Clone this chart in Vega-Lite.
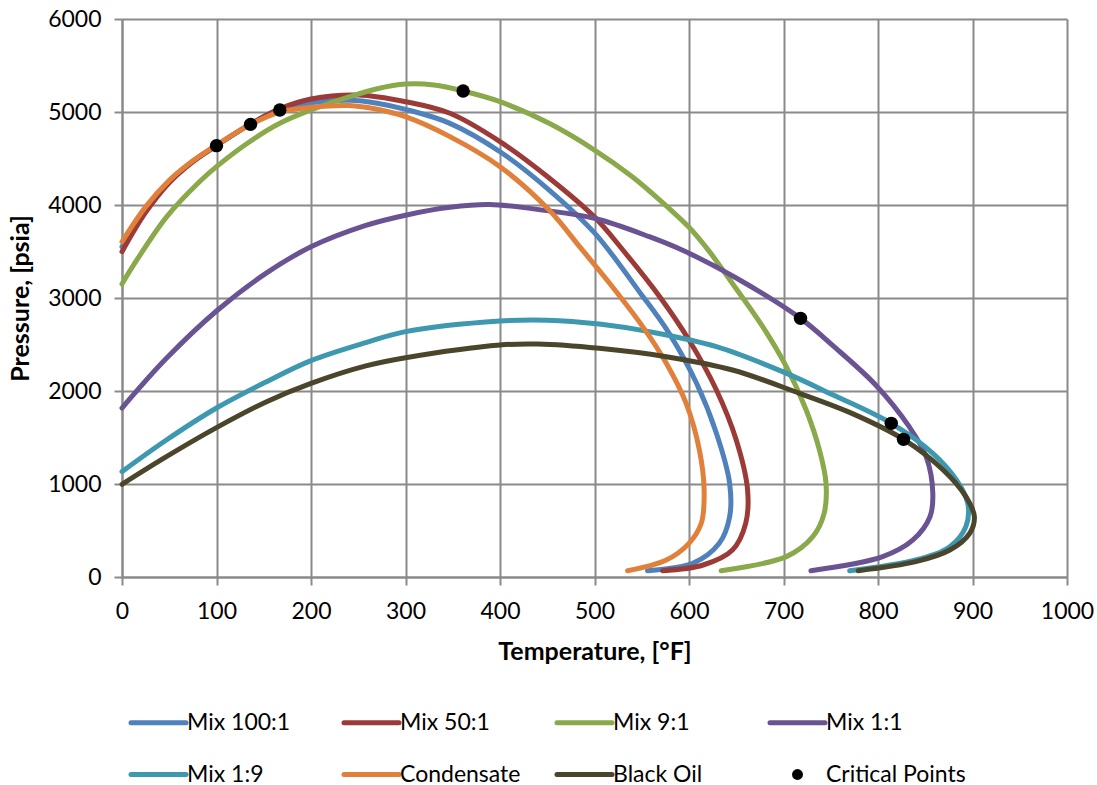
{
  "$schema": "https://vega.github.io/schema/vega-lite/v6.json",
  "width": 945,
  "height": 558,
  "autosize": {"type": "none"},
  "padding": {"left": 122, "top": 19, "right": 30, "bottom": 208},
  "background": "white",
  "config": {
    "font": "Lato",
    "view": {"stroke": null},
    "axis": {
      "gridColor": "#8a8a8a",
      "gridWidth": 2,
      "domainColor": "#8a8a8a",
      "domainWidth": 2,
      "tickColor": "#8a8a8a",
      "tickWidth": 2,
      "tickSize": 8,
      "labelFont": "Lato",
      "labelFontSize": 23,
      "labelColor": "#000000",
      "titleFont": "Lato",
      "titleFontSize": 25,
      "titleFontWeight": "bold",
      "titleColor": "#000000"
    }
  },
  "datasets": {
    "curves": [
      {"s": "Mix 100:1", "i": 0, "T": 0, "P": 3550}, {"s": "Mix 100:1", "i": 1, "T": 25, "P": 3950}, {"s": "Mix 100:1", "i": 2, "T": 50, "P": 4255}, {"s": "Mix 100:1", "i": 3, "T": 75, "P": 4470}, {"s": "Mix 100:1", "i": 4, "T": 100, "P": 4640}, {"s": "Mix 100:1", "i": 5, "T": 135, "P": 4865}, {"s": "Mix 100:1", "i": 6, "T": 167, "P": 5030}, {"s": "Mix 100:1", "i": 7, "T": 200, "P": 5100}, {"s": "Mix 100:1", "i": 8, "T": 241, "P": 5126}, {"s": "Mix 100:1", "i": 9, "T": 270, "P": 5095}, {"s": "Mix 100:1", "i": 10, "T": 300, "P": 5029}, {"s": "Mix 100:1", "i": 11, "T": 347, "P": 4878}, {"s": "Mix 100:1", "i": 12, "T": 400, "P": 4573}, {"s": "Mix 100:1", "i": 13, "T": 452, "P": 4161}, {"s": "Mix 100:1", "i": 14, "T": 500, "P": 3700}, {"s": "Mix 100:1", "i": 15, "T": 548, "P": 3060}, {"s": "Mix 100:1", "i": 16, "T": 579, "P": 2620}, {"s": "Mix 100:1", "i": 17, "T": 608, "P": 2083}, {"s": "Mix 100:1", "i": 18, "T": 629, "P": 1545}, {"s": "Mix 100:1", "i": 19, "T": 643, "P": 1007}, {"s": "Mix 100:1", "i": 20, "T": 643, "P": 648}, {"s": "Mix 100:1", "i": 21, "T": 632, "P": 362}, {"s": "Mix 100:1", "i": 22, "T": 604, "P": 147}, {"s": "Mix 100:1", "i": 23, "T": 556, "P": 68},

      {"s": "Mix 50:1", "i": 0, "T": 0, "P": 3498}, {"s": "Mix 50:1", "i": 1, "T": 25, "P": 3920}, {"s": "Mix 50:1", "i": 2, "T": 50, "P": 4240}, {"s": "Mix 50:1", "i": 3, "T": 75, "P": 4465}, {"s": "Mix 50:1", "i": 4, "T": 100, "P": 4640}, {"s": "Mix 50:1", "i": 5, "T": 135, "P": 4865}, {"s": "Mix 50:1", "i": 6, "T": 167, "P": 5035}, {"s": "Mix 50:1", "i": 7, "T": 200, "P": 5140}, {"s": "Mix 50:1", "i": 8, "T": 250, "P": 5183}, {"s": "Mix 50:1", "i": 9, "T": 300, "P": 5111}, {"s": "Mix 50:1", "i": 10, "T": 347, "P": 4986}, {"s": "Mix 50:1", "i": 11, "T": 400, "P": 4681}, {"s": "Mix 50:1", "i": 12, "T": 452, "P": 4290}, {"s": "Mix 50:1", "i": 13, "T": 500, "P": 3870}, {"s": "Mix 50:1", "i": 14, "T": 530, "P": 3516}, {"s": "Mix 50:1", "i": 15, "T": 569, "P": 3014}, {"s": "Mix 50:1", "i": 16, "T": 600, "P": 2548}, {"s": "Mix 50:1", "i": 17, "T": 629, "P": 2011}, {"s": "Mix 50:1", "i": 18, "T": 650, "P": 1473}, {"s": "Mix 50:1", "i": 19, "T": 662, "P": 935}, {"s": "Mix 50:1", "i": 20, "T": 660, "P": 577}, {"s": "Mix 50:1", "i": 21, "T": 646, "P": 290}, {"s": "Mix 50:1", "i": 22, "T": 615, "P": 129}, {"s": "Mix 50:1", "i": 23, "T": 572, "P": 68},

      {"s": "Mix 9:1", "i": 0, "T": 0, "P": 3150}, {"s": "Mix 9:1", "i": 1, "T": 12, "P": 3350}, {"s": "Mix 9:1", "i": 2, "T": 47, "P": 3870}, {"s": "Mix 9:1", "i": 3, "T": 82, "P": 4250}, {"s": "Mix 9:1", "i": 4, "T": 100, "P": 4412}, {"s": "Mix 9:1", "i": 5, "T": 135, "P": 4680}, {"s": "Mix 9:1", "i": 6, "T": 167, "P": 4878}, {"s": "Mix 9:1", "i": 7, "T": 200, "P": 5022}, {"s": "Mix 9:1", "i": 8, "T": 241, "P": 5165}, {"s": "Mix 9:1", "i": 9, "T": 270, "P": 5250}, {"s": "Mix 9:1", "i": 10, "T": 300, "P": 5300}, {"s": "Mix 9:1", "i": 11, "T": 330, "P": 5290}, {"s": "Mix 9:1", "i": 12, "T": 361, "P": 5226}, {"s": "Mix 9:1", "i": 13, "T": 400, "P": 5111}, {"s": "Mix 9:1", "i": 14, "T": 452, "P": 4878}, {"s": "Mix 9:1", "i": 15, "T": 500, "P": 4591}, {"s": "Mix 9:1", "i": 16, "T": 540, "P": 4304}, {"s": "Mix 9:1", "i": 17, "T": 576, "P": 3990}, {"s": "Mix 9:1", "i": 18, "T": 600, "P": 3760}, {"s": "Mix 9:1", "i": 19, "T": 620, "P": 3520}, {"s": "Mix 9:1", "i": 20, "T": 645, "P": 3170}, {"s": "Mix 9:1", "i": 21, "T": 678, "P": 2692}, {"s": "Mix 9:1", "i": 22, "T": 703, "P": 2262}, {"s": "Mix 9:1", "i": 23, "T": 724, "P": 1796}, {"s": "Mix 9:1", "i": 24, "T": 738, "P": 1366}, {"s": "Mix 9:1", "i": 25, "T": 745, "P": 1007}, {"s": "Mix 9:1", "i": 26, "T": 743, "P": 685}, {"s": "Mix 9:1", "i": 27, "T": 731, "P": 434}, {"s": "Mix 9:1", "i": 28, "T": 703, "P": 219}, {"s": "Mix 9:1", "i": 29, "T": 634, "P": 68},

      {"s": "Mix 1:1", "i": 0, "T": 0, "P": 1817}, {"s": "Mix 1:1", "i": 1, "T": 47, "P": 2351}, {"s": "Mix 1:1", "i": 2, "T": 100, "P": 2860}, {"s": "Mix 1:1", "i": 3, "T": 153, "P": 3270}, {"s": "Mix 1:1", "i": 4, "T": 200, "P": 3550}, {"s": "Mix 1:1", "i": 5, "T": 258, "P": 3780}, {"s": "Mix 1:1", "i": 6, "T": 300, "P": 3890}, {"s": "Mix 1:1", "i": 7, "T": 347, "P": 3975}, {"s": "Mix 1:1", "i": 8, "T": 389, "P": 4005}, {"s": "Mix 1:1", "i": 9, "T": 445, "P": 3945}, {"s": "Mix 1:1", "i": 10, "T": 500, "P": 3857}, {"s": "Mix 1:1", "i": 11, "T": 558, "P": 3659}, {"s": "Mix 1:1", "i": 12, "T": 595, "P": 3505}, {"s": "Mix 1:1", "i": 13, "T": 650, "P": 3215}, {"s": "Mix 1:1", "i": 14, "T": 718, "P": 2781}, {"s": "Mix 1:1", "i": 15, "T": 752, "P": 2490}, {"s": "Mix 1:1", "i": 16, "T": 798, "P": 2060}, {"s": "Mix 1:1", "i": 17, "T": 833, "P": 1616}, {"s": "Mix 1:1", "i": 18, "T": 851, "P": 1294}, {"s": "Mix 1:1", "i": 19, "T": 858, "P": 900}, {"s": "Mix 1:1", "i": 20, "T": 855, "P": 648}, {"s": "Mix 1:1", "i": 21, "T": 837, "P": 398}, {"s": "Mix 1:1", "i": 22, "T": 805, "P": 219}, {"s": "Mix 1:1", "i": 23, "T": 729, "P": 68},

      {"s": "Mix 1:9", "i": 0, "T": 0, "P": 1133}, {"s": "Mix 1:9", "i": 1, "T": 47, "P": 1473}, {"s": "Mix 1:9", "i": 2, "T": 100, "P": 1817}, {"s": "Mix 1:9", "i": 3, "T": 153, "P": 2100}, {"s": "Mix 1:9", "i": 4, "T": 200, "P": 2326}, {"s": "Mix 1:9", "i": 5, "T": 258, "P": 2520}, {"s": "Mix 1:9", "i": 6, "T": 300, "P": 2638}, {"s": "Mix 1:9", "i": 7, "T": 400, "P": 2753}, {"s": "Mix 1:9", "i": 8, "T": 450, "P": 2762}, {"s": "Mix 1:9", "i": 9, "T": 505, "P": 2720}, {"s": "Mix 1:9", "i": 10, "T": 558, "P": 2638}, {"s": "Mix 1:9", "i": 11, "T": 629, "P": 2477}, {"s": "Mix 1:9", "i": 12, "T": 699, "P": 2208}, {"s": "Mix 1:9", "i": 13, "T": 752, "P": 1960}, {"s": "Mix 1:9", "i": 14, "T": 814, "P": 1652}, {"s": "Mix 1:9", "i": 15, "T": 858, "P": 1330}, {"s": "Mix 1:9", "i": 16, "T": 883, "P": 1043}, {"s": "Mix 1:9", "i": 17, "T": 895, "P": 792}, {"s": "Mix 1:9", "i": 18, "T": 893, "P": 541}, {"s": "Mix 1:9", "i": 19, "T": 876, "P": 326}, {"s": "Mix 1:9", "i": 20, "T": 840, "P": 183}, {"s": "Mix 1:9", "i": 21, "T": 770, "P": 68},

      {"s": "Condensate", "i": 0, "T": 0, "P": 3605}, {"s": "Condensate", "i": 1, "T": 25, "P": 3980}, {"s": "Condensate", "i": 2, "T": 50, "P": 4265}, {"s": "Condensate", "i": 3, "T": 75, "P": 4475}, {"s": "Condensate", "i": 4, "T": 100, "P": 4645}, {"s": "Condensate", "i": 5, "T": 135, "P": 4860}, {"s": "Condensate", "i": 6, "T": 167, "P": 5000}, {"s": "Condensate", "i": 7, "T": 200, "P": 5050}, {"s": "Condensate", "i": 8, "T": 240, "P": 5070}, {"s": "Condensate", "i": 9, "T": 270, "P": 5030}, {"s": "Condensate", "i": 10, "T": 300, "P": 4950}, {"s": "Condensate", "i": 11, "T": 347, "P": 4735}, {"s": "Condensate", "i": 12, "T": 400, "P": 4412}, {"s": "Condensate", "i": 13, "T": 452, "P": 3946}, {"s": "Condensate", "i": 14, "T": 486, "P": 3530}, {"s": "Condensate", "i": 15, "T": 516, "P": 3158}, {"s": "Condensate", "i": 16, "T": 551, "P": 2692}, {"s": "Condensate", "i": 17, "T": 576, "P": 2298}, {"s": "Condensate", "i": 18, "T": 597, "P": 1867}, {"s": "Condensate", "i": 19, "T": 611, "P": 1366}, {"s": "Condensate", "i": 20, "T": 616, "P": 935}, {"s": "Condensate", "i": 21, "T": 613, "P": 577}, {"s": "Condensate", "i": 22, "T": 600, "P": 362}, {"s": "Condensate", "i": 23, "T": 576, "P": 183}, {"s": "Condensate", "i": 24, "T": 535, "P": 68},

      {"s": "Black Oil", "i": 0, "T": 0, "P": 997}, {"s": "Black Oil", "i": 1, "T": 47, "P": 1294}, {"s": "Black Oil", "i": 2, "T": 100, "P": 1606}, {"s": "Black Oil", "i": 3, "T": 153, "P": 1885}, {"s": "Black Oil", "i": 4, "T": 200, "P": 2082}, {"s": "Black Oil", "i": 5, "T": 258, "P": 2270}, {"s": "Black Oil", "i": 6, "T": 300, "P": 2358}, {"s": "Black Oil", "i": 7, "T": 400, "P": 2495}, {"s": "Black Oil", "i": 8, "T": 440, "P": 2505}, {"s": "Black Oil", "i": 9, "T": 505, "P": 2459}, {"s": "Black Oil", "i": 10, "T": 576, "P": 2369}, {"s": "Black Oil", "i": 11, "T": 646, "P": 2226}, {"s": "Black Oil", "i": 12, "T": 717, "P": 1975}, {"s": "Black Oil", "i": 13, "T": 770, "P": 1770}, {"s": "Black Oil", "i": 14, "T": 827, "P": 1480}, {"s": "Black Oil", "i": 15, "T": 869, "P": 1151}, {"s": "Black Oil", "i": 16, "T": 893, "P": 864}, {"s": "Black Oil", "i": 17, "T": 902, "P": 648}, {"s": "Black Oil", "i": 18, "T": 897, "P": 470}, {"s": "Black Oil", "i": 19, "T": 876, "P": 290}, {"s": "Black Oil", "i": 20, "T": 840, "P": 165}, {"s": "Black Oil", "i": 21, "T": 779, "P": 68}
    ],
    "critical": [
      {"s": "Critical Points", "T": 100, "P": 4638},
      {"s": "Critical Points", "T": 136, "P": 4867},
      {"s": "Critical Points", "T": 167, "P": 5022},
      {"s": "Critical Points", "T": 361, "P": 5226},
      {"s": "Critical Points", "T": 718, "P": 2781},
      {"s": "Critical Points", "T": 814, "P": 1652},
      {"s": "Critical Points", "T": 827, "P": 1480}
    ]
  },
  "encoding": {
    "x": {
      "field": "T",
      "type": "quantitative",
      "scale": {"domain": [0, 1000], "nice": false, "zero": false},
      "axis": {
        "title": "Temperature, [°F]",
        "format": "d",
        "values": [0, 100, 200, 300, 400, 500, 600, 700, 800, 900, 1000],
        "labelPadding": 15,
        "titlePadding": 16,
        "labelFlush": false
      }
    },
    "y": {
      "field": "P",
      "type": "quantitative",
      "scale": {"domain": [0, 6000], "nice": false},
      "axis": {
        "title": "Pressure, [psia]",
        "format": "d",
        "values": [0, 1000, 2000, 3000, 4000, 5000, 6000],
        "labelPadding": 13,
        "titlePadding": 14,
        "labelFlush": false
      }
    },
    "color": {
      "field": "s",
      "type": "nominal",
      "scale": {
        "domain": ["Mix 100:1", "Mix 50:1", "Mix 9:1", "Mix 1:1", "Mix 1:9", "Condensate", "Black Oil", "Critical Points"],
        "range": ["#4f81bd", "#9b3a37", "#89a94b", "#6a5392", "#3d98b0", "#e0803a", "#4b452c", "#000000"]
      },
      "legend": {
        "title": null,
        "orient": "none",
        "legendX": 25,
        "legendY": 692,
        "direction": "horizontal",
        "columns": 4,
        "gridAlign": "all",
        "columnPadding": 7,
        "rowPadding": 28,
        "symbolType": "stroke",
        "symbolSize": 3025,
        "symbolStrokeWidth": 5,
        "labelFont": "Lato",
        "labelFontSize": 23,
        "labelColor": "#000000",
        "labelOffset": 17,
        "labelLimit": 300,
        "encode": {
          "symbols": {
            "update": {
              "shape": {"signal": "datum.value === 'Critical Points' ? 'circle' : 'stroke'"},
              "size": {"signal": "datum.value === 'Critical Points' ? 120 : 3025"},
              "fill": {"signal": "datum.value === 'Critical Points' ? '#000000' : 'transparent'"},
              "strokeWidth": {"signal": "datum.value === 'Critical Points' ? 0 : 5"},
              "strokeCap": {"value": "round"},
              "opacity": {"value": 1}
            }
          }
        }
      }
    }
  },
  "layer": [
    {
      "data": {"name": "curves"},
      "mark": {"type": "line", "strokeWidth": 5, "interpolate": "catmull-rom", "strokeCap": "round", "strokeJoin": "round"},
      "encoding": {
        "order": {"field": "i", "type": "quantitative"}
      }
    },
    {
      "data": {"name": "critical"},
      "mark": {"type": "point", "filled": true, "size": 180, "opacity": 1, "strokeWidth": 0}
    }
  ]
}
